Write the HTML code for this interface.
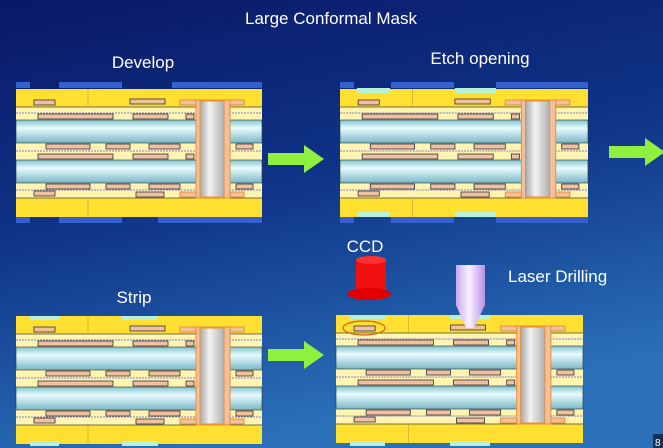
<!DOCTYPE html>
<html><head><meta charset="utf-8"><style>
html,body{margin:0;padding:0;width:663px;height:448px;overflow:hidden;background:#0b1d6e}
svg{display:block}
text{font-family:"Liberation Sans",sans-serif;fill:#fff}
</style></head><body>
<svg width="663" height="448" viewBox="0 0 663 448" xmlns="http://www.w3.org/2000/svg">
<defs>
<linearGradient id="bg" x1="0" y1="0" x2="0.3" y2="1">
<stop offset="0" stop-color="#0a1866"/><stop offset="0.5" stop-color="#0f3488"/><stop offset="1" stop-color="#2a70b8"/>
</linearGradient>
<linearGradient id="core" x1="0" y1="0" x2="0" y2="1">
<stop offset="0" stop-color="#7fc4cc"/><stop offset="0.35" stop-color="#e8fbff"/><stop offset="1" stop-color="#7ab8c4"/>
</linearGradient>
<linearGradient id="via" x1="0" y1="0" x2="1" y2="0">
<stop offset="0" stop-color="#a8a8a8"/><stop offset="0.4" stop-color="#f2f2f2"/><stop offset="1" stop-color="#b0b0b0"/>
</linearGradient>
<linearGradient id="laser" x1="0" y1="0" x2="1" y2="0">
<stop offset="0" stop-color="#c8a8f0"/><stop offset="0.45" stop-color="#faf2ff"/><stop offset="1" stop-color="#b890e8"/>
</linearGradient>
<g id="board">
<rect x="0" y="0" width="246" height="128" fill="#ffe030"/>
<rect x="0" y="18" width="246" height="91" fill="#fff4b0"/>
<line x1="0" y1="18" x2="246" y2="18" stroke="#444" stroke-width="0.8"/>
<line x1="0" y1="109" x2="246" y2="109" stroke="#444" stroke-width="0.8"/>
<line x1="0" y1="24" x2="246" y2="24" stroke="#8080d0" stroke-width="1" stroke-dasharray="2 1"/>
<line x1="0" y1="62" x2="246" y2="62" stroke="#8080d0" stroke-width="1" stroke-dasharray="2 1"/>
<line x1="0" y1="101" x2="246" y2="101" stroke="#8080d0" stroke-width="1" stroke-dasharray="2 1"/>
<rect x="0" y="31" width="246" height="23" fill="url(#core)" stroke="#333" stroke-width="0.6"/>
<rect x="0" y="71" width="246" height="23" fill="url(#core)" stroke="#333" stroke-width="0.6"/>
<line x1="72" y1="0" x2="72" y2="18" stroke="#b8a040" stroke-width="0.6"/>
<line x1="72" y1="109" x2="72" y2="128" stroke="#b8a040" stroke-width="0.6"/>
<g fill="#f0c0a0" stroke="#333" stroke-width="0.8">
<rect x="18" y="11" width="21" height="5"/><rect x="114" y="10" width="35" height="5"/>
<rect x="22" y="25" width="75" height="5"/><rect x="117" y="25" width="35" height="5"/>
<rect x="30" y="55" width="44" height="5"/><rect x="90" y="55" width="24" height="5"/><rect x="133" y="55" width="31" height="5"/><rect x="220" y="55" width="17" height="5"/>
<rect x="22" y="65" width="75" height="5"/><rect x="117" y="65" width="35" height="5"/>
<rect x="30" y="95" width="44" height="5"/><rect x="90" y="95" width="24" height="5"/><rect x="133" y="95" width="31" height="5"/><rect x="220" y="95" width="17" height="5"/>
<rect x="18" y="102" width="21" height="5"/><rect x="120" y="103" width="28" height="5"/>
<rect x="170" y="25" width="8" height="5"/><rect x="170" y="65" width="8" height="5"/>
</g>
<g fill="#f0c0a0" stroke="#e89030" stroke-width="1">
<rect x="164" y="11" width="64" height="5"/><rect x="164" y="103" width="64" height="5"/>
<rect x="180" y="11" width="34" height="98"/>
</g>
<rect x="184" y="12" width="24" height="96" fill="url(#via)" stroke="#e89030" stroke-width="1"/>
</g>
<polygon id="arrow" points="0,8 36,8 36,0 56,14 36,28 36,20 0,20" fill="#90f040"/>
</defs>
<rect width="663" height="448" fill="url(#bg)"/>
<text x="331" y="24" font-size="17" text-anchor="middle">Large Conformal Mask</text>
<text x="143" y="68" font-size="17" text-anchor="middle">Develop</text>
<text x="480" y="64" font-size="17" text-anchor="middle">Etch opening</text>
<text x="134" y="303" font-size="17" text-anchor="middle">Strip</text>
<text x="365" y="252" font-size="17" text-anchor="middle">CCD</text>
<text x="508" y="282" font-size="17">Laser Drilling</text>

<!-- board 1 -->
<use href="#board" transform="translate(16,89)"/>
<g fill="#3460d0">
<rect x="16" y="82" width="14" height="6"/><rect x="59" y="82" width="63" height="6"/><rect x="172" y="82" width="90" height="6"/>
<rect x="16" y="217" width="14" height="6"/><rect x="59" y="217" width="63" height="6"/><rect x="158" y="217" width="104" height="6"/>
</g>
<!-- board 2 -->
<use href="#board" transform="translate(340,89) scale(1.008,1)"/>
<g fill="#3460d0">
<rect x="340" y="82" width="14" height="6"/><rect x="391" y="82" width="63" height="6"/><rect x="496" y="82" width="92" height="6"/>
<rect x="340" y="217" width="14" height="6"/><rect x="391" y="217" width="63" height="6"/><rect x="496" y="217" width="92" height="6"/>
</g>
<g fill="#b8f0d8">
<rect x="357" y="88" width="33" height="5"/><rect x="455" y="88" width="41" height="5"/>
<rect x="357" y="212" width="33" height="5"/><rect x="455" y="212" width="41" height="5"/>
</g>
<!-- board 3 -->
<use href="#board" transform="translate(16,316)"/>
<g fill="#b8f0d8">
<rect x="30" y="316" width="29" height="4"/><rect x="122" y="316" width="36" height="4"/>
<rect x="30" y="441" width="29" height="5"/><rect x="122" y="441" width="36" height="5"/>
</g>
<!-- board 4 -->
<use href="#board" transform="translate(336,315) scale(1.004,1)"/>
<g fill="#b8f0d8">
<rect x="350" y="315" width="35" height="4"/><rect x="450" y="315" width="40" height="4"/>
<rect x="350" y="441" width="35" height="5"/><rect x="450" y="441" width="40" height="5"/>
</g>
<ellipse cx="364" cy="328" rx="21" ry="7" fill="none" stroke="#d06020" stroke-width="1.2"/>
<!-- CCD -->
<rect x="356" y="260" width="30" height="32" fill="#f01010"/>
<ellipse cx="371" cy="260" rx="15" ry="4" fill="#ff3030"/>
<ellipse cx="369" cy="294" rx="22" ry="6" fill="#e00000"/>
<!-- laser -->
<path d="M456,265 H485 V305 L474,328 H466 L456,305 Z" fill="url(#laser)"/>
<!-- arrows -->
<use href="#arrow" transform="translate(268,145)"/>
<use href="#arrow" transform="translate(609,138)"/>
<use href="#arrow" transform="translate(268,341)"/>
<rect x="653" y="434" width="10" height="14" fill="#1a3050"/>
<text x="655" y="446" font-size="10">8</text>
</svg>
</body></html>
